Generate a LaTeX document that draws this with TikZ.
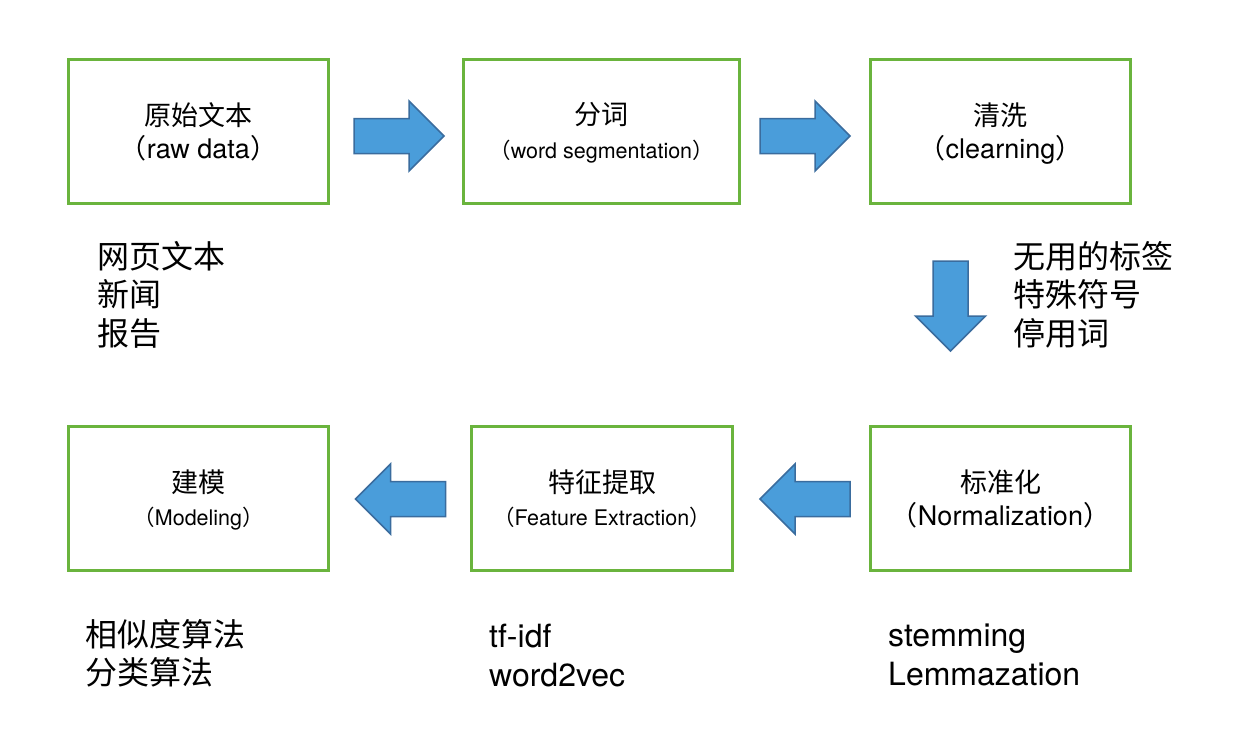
\documentclass[tikz,border=0pt]{standalone}
\usepackage{fontspec}
\setmainfont{TeX Gyre Heros}
\newfontfamily\cjk{Noto Sans CJK SC}
\usetikzlibrary{calc}
\definecolor{boxgreen}{RGB}{106,180,61}
\definecolor{arrowblue}{RGB}{74,157,218}
\definecolor{arrowedge}{RGB}{58,108,158}
\tikzset{
  stagebox/.style={draw=boxgreen, line width=3pt, minimum height=144pt, inner sep=0pt},
  ttl/.style={inner sep=0pt, font=\fontsize{27}{30}\selectfont\cjk},
  subbig/.style={inner sep=0pt, anchor=base, font=\fontsize{27}{30}\selectfont},
  subsmall/.style={inner sep=0pt, anchor=base, font=\fontsize{21.5}{25}\selectfont},
  note/.style={inner sep=0pt, anchor=north west, align=left, font=\fontsize{32}{38.5}\selectfont},
  cjknote/.style={note, font=\fontsize{32}{38.5}\selectfont\cjk},
  blockarrow/.pic={\draw[fill=arrowblue, draw=arrowedge, line width=1.5pt, line join=miter]
     (-45,-17.5) -- (10,-17.5) -- (10,-35) -- (45,0) -- (10,35) -- (10,17.5) -- (-45,17.5) -- cycle;}
}
\begin{document}
\begin{tikzpicture}[x=1pt,y=-1pt]
\useasboundingbox[fill=white] (0,0) rectangle (1245,750);

% boxes
\node[stagebox, minimum width=260pt] (raw) at (198.5,131.5) {};
\node[stagebox, minimum width=276pt] (seg) at (601.5,131.5) {};
\node[stagebox, minimum width=260pt] (cln) at (1000.5,131.5) {};
\node[stagebox, minimum width=260pt] (mdl) at (198.5,498.5) {};
\node[stagebox, minimum width=261pt] (fea) at (602,498.5) {};
\node[stagebox, minimum width=260pt] (nrm) at (1000.5,498.5) {};

% titles
\node[ttl] (raw-t) at ($(raw.center)+(0,-16.5)$) {原始文本};
\node[subbig] (raw-s) at ($(raw.center)+(0,26.5)$) {{\cjk （}raw data{\cjk ）}};
\node[ttl] (seg-t) at ($(seg.center)+(0,-16.5)$) {分词};
\node[subsmall] (seg-s) at ($(seg.center)+(0,26.5)$) {{\cjk （}word segmentation{\cjk ）}};
\node[ttl] (cln-t) at ($(cln.center)+(0,-16.5)$) {清洗};
\node[subbig] (cln-s) at ($(cln.center)+(0,26.5)$) {{\cjk （}clearning{\cjk ）}};
\node[ttl] (mdl-t) at ($(mdl.center)+(0,-16)$) {建模};
\node[subsmall] (mdl-s) at ($(mdl.center)+(0,26.5)$) {{\cjk （}Modeling{\cjk ）}};
\node[ttl] (fea-t) at ($(fea.center)+(0,-16)$) {特征提取};
\node[subsmall] (fea-s) at ($(fea.center)+(0,26.5)$) {{\cjk （}Feature Extraction{\cjk ）}};
\node[ttl] (nrm-t) at ($(nrm.center)+(0,-16)$) {标准化};
\node[subbig] (nrm-s) at ($(nrm.center)+(0,26.5)$) {{\cjk （}Normalization{\cjk ）}};

% block arrows
\pic at ($(raw.east)!0.5!(seg.west)+(3,4.5)$) {blockarrow};
\pic at ($(seg.east)!0.5!(cln.west)+(0,4.5)$) {blockarrow};
\pic[rotate=-90] at ($(cln.south)!0.5!(nrm.north)+(-50,-9)$) {blockarrow};
\pic[rotate=180] at ($(fea.west)!0.5!(nrm.east)+(4,0.5)$) {blockarrow};
\pic[rotate=180] at ($(mdl.west)!0.5!(fea.east)+(0,0.5)$) {blockarrow};

% notes
\node[cjknote] (raw-n) at (97,241) {网页文本\\新闻\\报告};
\node[cjknote] (cln-n) at (1013,241) {无用的标签\\特殊符号\\停用词};
\node[cjknote] (mdl-n) at (85,619) {相似度算法\\分类算法};
\node[note] (fea-n) at (489,624) {tf-idf\\word2vec};
\node[note] (nrm-n) at (888,624) {stemming\\Lemmazation};
\end{tikzpicture}
\end{document}
